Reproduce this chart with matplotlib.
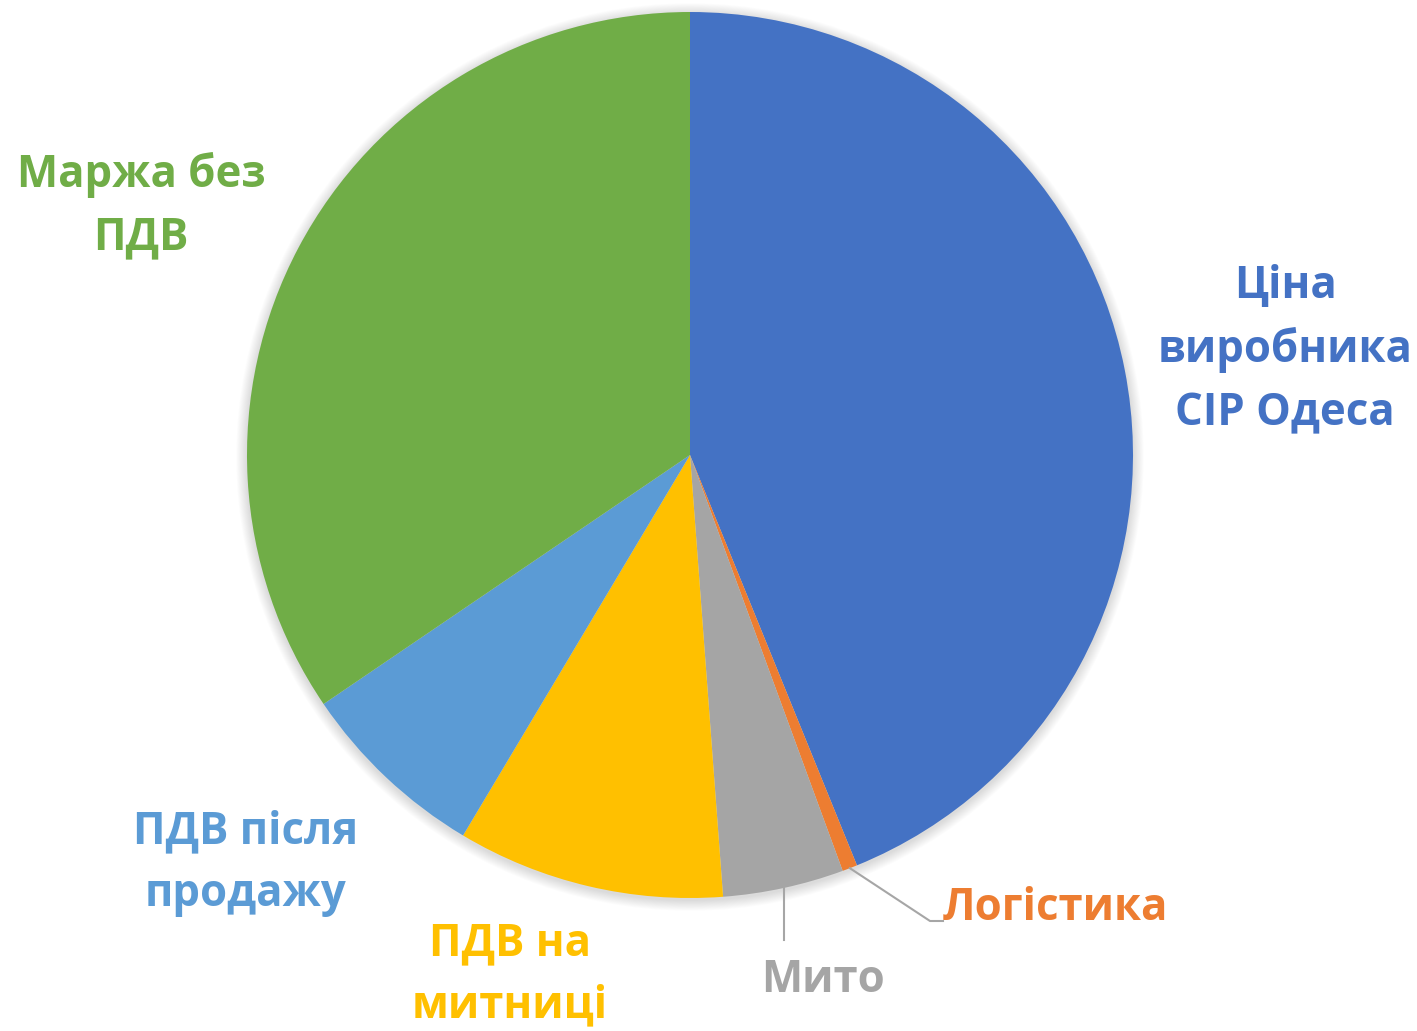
import numpy as np
import matplotlib
matplotlib.use("Agg")
import matplotlib.pyplot as plt

# Data
categories = ["Ціна\nвиробника\nCIP Одеса", "Логістика", "Мито",
              "ПДВ на\nмитниці", "ПДВ після\nпродажу", "Маржа без\nПДВ"]
values = [43.85, 0.55, 4.41, 9.75, 6.94, 34.5]
colors = ["#4472C4", "#ED7D31", "#A5A5A5", "#FFC000", "#5B9BD5", "#70AD47"]

W, H = 1417, 1031
fig = plt.figure(figsize=(W / 100, H / 100), dpi=100)
ax = fig.add_axes([0, 0, 1, 1])
ax.set_xlim(0, W)
ax.set_ylim(0, H)
ax.set_aspect("equal")
ax.axis("off")

cx, cy, R = 690, H - 455, 443

# soft shadow
for k in range(12, 0, -1):
    circ = plt.Circle((cx, cy - 2), R + k * 0.9, color="black",
                      alpha=0.012, lw=0, zorder=0)
    ax.add_patch(circ)

wedges, _ = ax.pie(values, colors=colors, startangle=90, counterclock=False,
                   center=(cx, cy), radius=R, frame=True,
                   wedgeprops=dict(linewidth=0))
ax.set_xlim(0, W)
ax.set_ylim(0, H)
ax.axis("off")

font = dict(family=["Open Sans", "DejaVu Sans"], fontweight="bold",
            fontsize=31.5, linespacing=1.52)

label_pos = [(1285, H - 350), (1055, H - 908), (823, H - 980),
             (510, H - 975), (246, H - 863), (141, H - 206)]
for lab, col, (x, y) in zip(categories, colors, label_pos):
    ax.text(x, y, lab, color=col, ha="center", va="center", **font)

# leader lines
lc = "#A6A6A6"
def mid_point(w):
    th = np.deg2rad((w.theta1 + w.theta2) / 2)
    return cx + R * np.cos(th), cy + R * np.sin(th)

x0, y0 = mid_point(wedges[1])
ax.plot([x0, 930, 943], [y0, H - 921, H - 921], color=lc, lw=1.5, zorder=5)
x1, y1 = mid_point(wedges[2])
ax.plot([x1, x1], [y1, H - 940], color=lc, lw=1.5, zorder=5)

fig.savefig("out.png", dpi=100, facecolor="white")
